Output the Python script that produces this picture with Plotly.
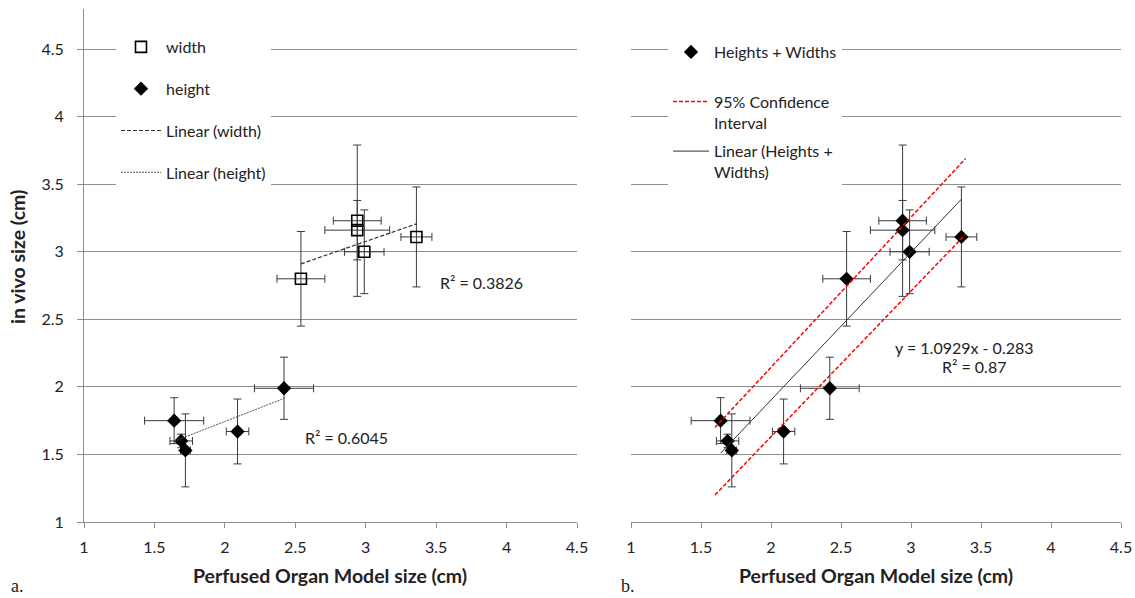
import numpy as np
import plotly.graph_objects as go

# ---------------- data ----------------
width_x = [2.54, 2.94, 2.94, 2.99, 3.36]
width_y = [2.80, 3.23, 3.16, 3.00, 3.11]
width_xerr = [0.17, 0.17, 0.23, 0.14, 0.11]
width_yerr = [0.35, 0.56, 0.22, 0.31, 0.37]

height_x = [1.64, 1.69, 1.72, 2.09, 2.42]
height_y = [1.75, 1.60, 1.53, 1.67, 1.99]
height_xerr = [0.21, 0.08, 0.035, 0.08, 0.21]
height_yerr = [0.17, 0.05, 0.27, 0.24, 0.23]

combined_slope = 1.0929
combined_intercept = -0.283
ci_x = [1.60, 3.39]
ci_upper = [1.70, 3.69]
ci_lower = [1.20, 3.13]

r2_width_text = "R² = 0.3826"
r2_height_text = "R² = 0.6045"
eq_text = "y = 1.0929x - 0.283"
r2_comb_text = "R² = 0.87"

x_ticks = [1, 1.5, 2, 2.5, 3, 3.5, 4, 4.5]
y_ticks = [1, 1.5, 2, 2.5, 3, 3.5, 4, 4.5]

# ---------------- styling ----------------
W, H = 1135, 598
FONT = "Lato, 'Open Sans', sans-serif"
TXT = "#222222"
GRID = "#8f8f8f"
ERR = "#3a3a3a"

def px_x(p):
    return p / W

def px_y(p):
    return 1 - p / H

fig = go.Figure()

# Left panel
fig.add_trace(go.Scatter(
    x=width_x, y=width_y, mode="markers", name="width",
    legend="legend", legendgroup="w",
    marker=dict(symbol="square-open", size=11, color="black", line=dict(width=1.6, color="black")),
    error_x=dict(type="data", array=width_xerr, color=ERR, thickness=1, width=4),
    error_y=dict(type="data", array=width_yerr, color=ERR, thickness=1, width=4),
    xaxis="x", yaxis="y"))
fig.add_trace(go.Scatter(
    x=height_x, y=height_y, mode="markers", name="height",
    legend="legend", legendgroup="h",
    marker=dict(symbol="diamond", size=11, color="black"),
    error_x=dict(type="data", array=height_xerr, color=ERR, thickness=1, width=4),
    error_y=dict(type="data", array=height_yerr, color=ERR, thickness=1, width=4),
    xaxis="x", yaxis="y"))

wfit = np.polyfit(width_x, width_y, 1)
wx = np.array([min(width_x), max(width_x)])
fig.add_trace(go.Scatter(
    x=wx, y=np.polyval(wfit, wx), mode="lines", name="Linear (width)",
    legend="legend", legendgroup="lw",
    line=dict(color="#333333", width=1.2, dash="4px,2px"), xaxis="x", yaxis="y"))

hfit = np.polyfit(height_x, height_y, 1)
hx = np.array([min(height_x), max(height_x)])
fig.add_trace(go.Scatter(
    x=hx, y=np.polyval(hfit, hx), mode="lines", name="Linear (height)",
    legend="legend", legendgroup="lh",
    line=dict(color="#555555", width=1, dash="2px,1px"), xaxis="x", yaxis="y"))

# Right panel
all_x = width_x + height_x
all_y = width_y + height_y
all_xerr = width_xerr + height_xerr
all_yerr = width_yerr + height_yerr

fig.add_trace(go.Scatter(
    x=all_x, y=all_y, mode="markers", name="Heights + Widths<br> ",
    legend="legend2", legendgroup="c",
    marker=dict(symbol="diamond", size=11, color="black"),
    error_x=dict(type="data", array=all_xerr, color=ERR, thickness=1, width=4),
    error_y=dict(type="data", array=all_yerr, color=ERR, thickness=1, width=4),
    xaxis="x2", yaxis="y2"))
fig.add_trace(go.Scatter(
    x=ci_x, y=ci_upper, mode="lines", name="95% Confidence<br>Interval",
    legend="legend2", legendgroup="ci",
    line=dict(color="#ff0000", width=1.5, dash="4px,2px"), xaxis="x2", yaxis="y2"))
fig.add_trace(go.Scatter(
    x=ci_x, y=ci_lower, mode="lines", name="95% Confidence Interval lower",
    legend="legend2", legendgroup="ci", showlegend=False,
    line=dict(color="#ff0000", width=1.5, dash="4px,2px"), xaxis="x2", yaxis="y2"))
cx = np.array([min(all_x), max(all_x)])
fig.add_trace(go.Scatter(
    x=cx, y=combined_slope * cx + combined_intercept, mode="lines",
    name="Linear (Heights +<br>Widths)",
    legend="legend2", legendgroup="cl",
    line=dict(color="#333333", width=1), xaxis="x2", yaxis="y2"))

y_dom = [px_y(522), px_y(8.6)]
common_x = dict(range=[1, 4.5], tickvals=x_ticks, ticktext=[f"{v:g}" for v in x_ticks],
                showline=True, linecolor=GRID, linewidth=1, ticks="outside", ticklen=5,
                tickcolor=GRID, showgrid=False, zeroline=False, automargin=False,
                ticklabelstandoff=6,
                tickfont=dict(family=FONT, size=16, color=TXT))
common_y = dict(range=[1, 4.8], showgrid=True, gridcolor=GRID,
                gridwidth=1, zeroline=False, domain=y_dom, automargin=False,
                tickfont=dict(family=FONT, size=16, color=TXT))

legend_common = dict(bgcolor="white", borderwidth=0, traceorder="grouped",
                     font=dict(family=FONT, size=16, color=TXT), xanchor="left",
                     yanchor="top", itemclick=False, valign="top")

fig.update_layout(
    template="plotly_white",
    width=W, height=H, margin=dict(l=0, r=0, t=0, b=0, autoexpand=False),
    paper_bgcolor="white", plot_bgcolor="white",
    xaxis=dict(domain=[px_x(84), px_x(577)], anchor="y", **common_x),
    yaxis=dict(anchor="x", showline=True, linecolor=GRID, linewidth=1,
               ticks="outside", ticklen=6, tickcolor=GRID, ticklabelstandoff=10,
               tickvals=y_ticks, ticktext=[f"{v:g}" for v in y_ticks], **common_y),
    xaxis2=dict(domain=[px_x(631), px_x(1121)], anchor="y2", **common_x),
    yaxis2=dict(anchor="x2", showline=False, showticklabels=False, ticks="",
                tickvals=y_ticks[1:], **common_y),
    legend=dict(x=px_x(116), y=px_y(30), tracegroupgap=18, itemwidth=40, **legend_common),
    legend2=dict(x=px_x(668), y=px_y(35), tracegroupgap=5, itemwidth=36, **legend_common),
    showlegend=True,
)

ann_font = dict(family=FONT, size=16, color=TXT)
title_font = dict(family=FONT, size=19.5, color=TXT)
annotations = [
    dict(text=r2_width_text, x=3.51, y=2.776, xref="x", yref="y", xanchor="left",
         yanchor="middle", showarrow=False, font=ann_font),
    dict(text=r2_height_text, x=2.554, y=1.622, xref="x", yref="y", xanchor="left",
         yanchor="middle", showarrow=False, font=ann_font),
    dict(text=eq_text, x=3.38, y=2.29, xref="x2", yref="y2", xanchor="center",
         yanchor="middle", showarrow=False, font=ann_font),
    dict(text=r2_comb_text, x=3.45, y=2.15, xref="x2", yref="y2", xanchor="center",
         yanchor="middle", showarrow=False, font=ann_font),
    dict(text="<b>Perfused Organ Model size (cm)</b>", x=px_x(330), y=px_y(575),
         xref="paper", yref="paper", xanchor="center", yanchor="middle", showarrow=False,
         font=title_font),
    dict(text="<b>Perfused Organ Model size (cm)</b>", x=px_x(876), y=px_y(575),
         xref="paper", yref="paper", xanchor="center", yanchor="middle", showarrow=False,
         font=title_font),
    dict(text="<b>in vivo size (cm)</b>", x=px_x(17), y=px_y(257), xref="paper", yref="paper",
         xanchor="center", yanchor="middle", textangle=-90, showarrow=False,
         font=title_font),
    dict(text="a.", x=px_x(9), y=px_y(586), xref="paper", yref="paper", xanchor="left",
         yanchor="middle", showarrow=False,
         font=dict(family="'Liberation Serif', serif", size=18, color=TXT)),
    dict(text="b.", x=px_x(619), y=px_y(586), xref="paper", yref="paper", xanchor="left",
         yanchor="middle", showarrow=False,
         font=dict(family="'Liberation Serif', serif", size=18, color=TXT)),
]
fig.update_layout(annotations=annotations)

fig.write_html("out.html")
